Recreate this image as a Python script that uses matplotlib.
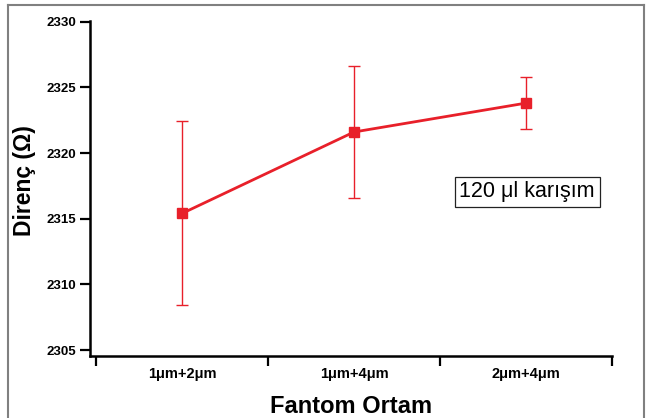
import matplotlib.pyplot as plt
from matplotlib.lines import Line2D

# data
categories = ['1μm+2μm', '1μm+4μm', '2μm+4μm']
resistance = [2315.4, 2321.6, 2323.8]
errors = [7.0, 5.0, 2.0]
yticks = [2305, 2310, 2315, 2320, 2325, 2330]

plt.rcParams['font.family'] = ['Liberation Sans', 'DejaVu Sans']

fig = plt.figure(figsize=(6.49, 4.18), dpi=100)
ax = fig.add_axes([0.1387, 0.1483, 0.8043, 0.8015])

x = [1, 2, 3]
red = '#e8202a'
ax.errorbar(x, resistance, yerr=errors, color=red, lw=2, marker='s', ms=7.5,
            ecolor=red, elinewidth=1, capsize=4, capthick=1)

ax.set_xlim(0.465, 3.5)
ax.set_ylim(2304.55, 2330.05)
ax.set_yticks(yticks)
ax.set_yticklabels([str(t) for t in yticks], fontweight='bold', fontsize=9.5)

ax.set_xticks([0.5, 1.5, 2.5, 3.5])
ax.set_xticklabels([])
ax.set_xticks(x, minor=True)
ax.set_xticklabels(categories, minor=True, fontweight='bold', fontsize=10.5)
ax.tick_params(axis='x', which='major', direction='out', length=7, width=1.6)
ax.tick_params(axis='x', which='minor', length=0, pad=8)
ax.tick_params(axis='y', direction='out', length=7, width=1.6, pad=3)

for s in ['top', 'right']:
    ax.spines[s].set_visible(False)
for s in ['left', 'bottom']:
    ax.spines[s].set_linewidth(1.8)

ax.set_ylabel('Direnç (Ω)', fontweight='bold', fontsize=16.5)
ax.yaxis.set_label_coords(-0.104, 0.525)
ax.set_xlabel('Fantom Ortam', fontweight='bold', fontsize=17, labelpad=10)

ax.text(3.006, 2317.05, '120 μl karışım', fontsize=15.5, ha='center', va='center',
        bbox=dict(boxstyle='square,pad=0.22', fc='white', ec='#222222', lw=0.9))

# grey frame around the figure (no bottom edge)
fc = '#808080'
fig.add_artist(Line2D([8/649, 8/649], [0, 1 - 5/418], color=fc, lw=1.5))
fig.add_artist(Line2D([8/649, 644/649], [1 - 5/418, 1 - 5/418], color=fc, lw=1.5))
fig.add_artist(Line2D([644/649, 644/649], [0, 1 - 5/418], color=fc, lw=1.5))

fig.savefig('out.png', dpi=100)
